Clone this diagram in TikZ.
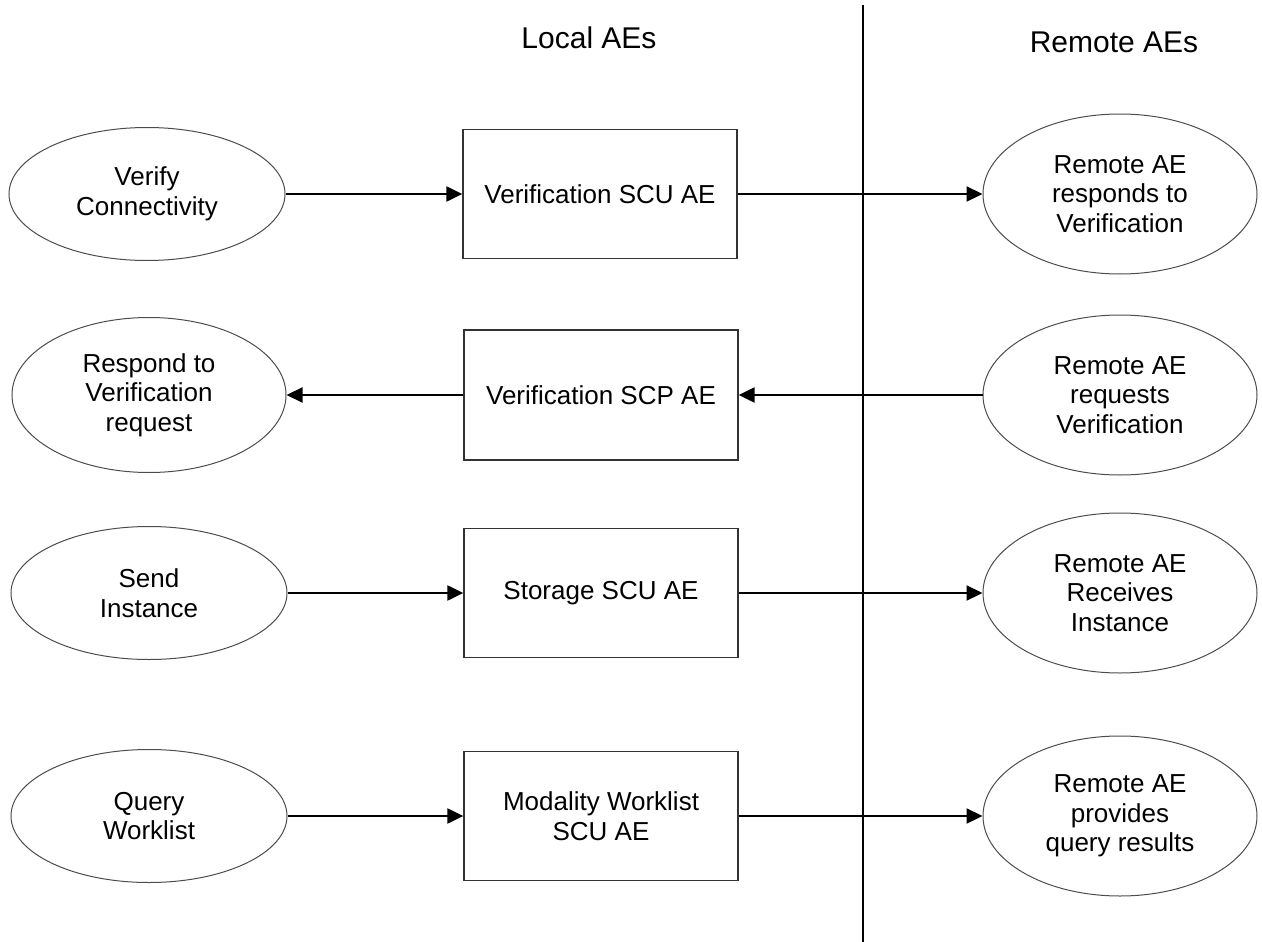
\documentclass[tikz,border=0pt]{standalone}
\usepackage{fontspec}
\setmainfont{Liberation Sans}
\usetikzlibrary{shapes.geometric,arrows.meta}
\begin{document}
\begin{tikzpicture}[x=1pt,y=-1pt,
  lbl/.style={font=\fontsize{26}{29.5}\selectfont, align=center, text=black},
  usecase/.style={lbl, ellipse, draw=black!70, line width=1pt, inner sep=0pt, minimum width=276pt, minimum height=133pt},
  remote/.style={lbl, ellipse, draw=black!70, line width=1pt, inner sep=0pt, minimum width=274pt, minimum height=160pt},
  aebox/.style={lbl, rectangle, draw=black!80, line width=1.3pt, inner sep=0pt, minimum width=274pt, minimum height=129pt},
  arr/.style={line width=2.2pt, -{Triangle[length=16pt,width=15pt]}},
  heading/.style={font=\fontsize{30}{34}\selectfont, text=black}
]
\useasboundingbox (0,0) rectangle (1262,942);

\node[heading] (hl) at (589,38) {Local AEs};
\node[heading] (hr) at (1114,42) {Remote AEs};

\coordinate (vtop) at (863,5);
\coordinate (vbot) at (863,942);
\draw[line width=2pt] (vtop) -- (vbot);

% row 1
\node[usecase] (L1) at (147,194) {Verify\\Connectivity};
\node[aebox] (B1) at (600,194) {Verification SCU AE};
\node[remote] (R1) at (1120,194) {Remote AE\\responds to\\Verification};
% row 2
\node[usecase, minimum height=155pt, minimum width=274pt] (L2) at (149,395) {Respond to\\Verification\\request};
\node[aebox, minimum height=130pt] (B2) at (601,395) {Verification SCP AE};
\node[remote] (R2) at (1120,395) {Remote AE\\requests\\Verification};
% row 3
\node[usecase] (L3) at (149,593) {Send\\Instance};
\node[aebox] (B3) at (601,593) {Storage SCU AE};
\node[remote] (R3) at (1120,593) {Remote AE\\Receives\\Instance};
% row 4
\node[usecase] (L4) at (149,816) {Query\\Worklist};
\node[aebox] (B4) at (601,816) {Modality Worklist\\SCU AE};
\node[remote] (R4) at (1120,816) {Remote AE\\provides\\query results};

\draw[arr] (L1) -- (B1);
\draw[arr] (B1) -- (R1);
\draw[arr] (B2) -- (L2);
\draw[arr] (R2) -- (B2);
\draw[arr] (L3) -- (B3);
\draw[arr] (B3) -- (R3);
\draw[arr] (L4) -- (B4);
\draw[arr] (B4) -- (R4);
\end{tikzpicture}
\end{document}
